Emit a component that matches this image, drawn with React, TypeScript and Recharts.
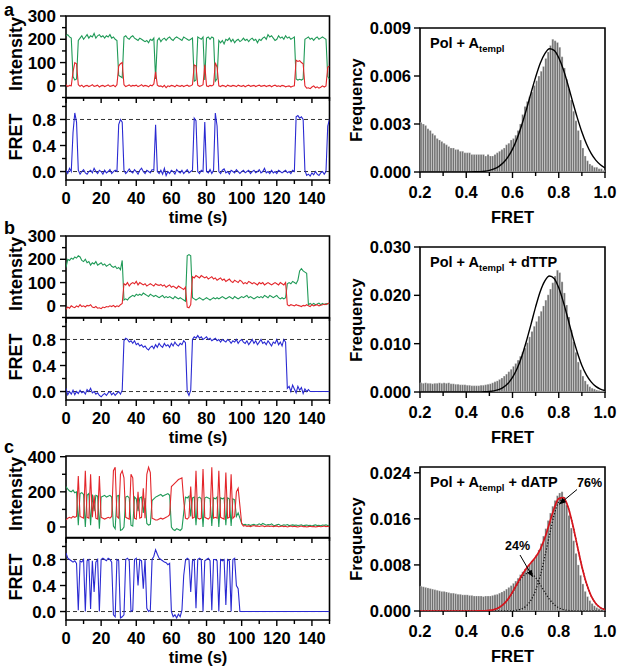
import React from "react";
import {
  LineChart,
  Line,
  XAxis,
  YAxis,
  ReferenceLine,
  ReferenceArea,
  ComposedChart,
  Bar,
} from "recharts";

const FONT = '"Liberation Sans", Arial, Helvetica, sans-serif';
const GREEN = "#1f9a57";
const RED = "#e3262b";
const BLUE = "#2a2ad2";

// ---------- traces (1 s steps, t = 0..150) ----------
const A_GREEN = [
  215, 220, 210, 205, 40, 25, 30, 195, 205, 215,
  200, 210, 220, 205, 215, 210, 225, 205, 215, 220,
  210, 215, 205, 215, 210, 220, 205, 210, 200, 195,
  45, 40, 35, 210, 215, 205, 200, 210, 215, 205,
  200, 195, 205, 200, 195, 190, 195, 185, 200, 195,
  205, 30, 195, 205, 190, 200, 205, 195, 205, 210,
  200, 195, 205, 210, 205, 200, 195, 210, 205, 200,
  195, 200, 205, 20, 25, 210, 205, 200, 210, 25,
  205, 210, 200, 210, 205, 20, 30, 195, 185, 195,
  180, 200, 195, 205, 190, 200, 185, 195, 200, 190,
  195, 205, 195, 200, 190, 200, 205, 195, 200, 185,
  200, 195, 205, 210, 200, 220, 210, 215, 205, 195,
  200, 215, 205, 210, 200, 215, 205, 210, 200, 205,
  210, 30, 25, 28, 25, 30, 200, 205, 210, 200,
  205, 195, 205, 210, 200, 205, 210, 205, 200, 40,
  30,
];
const A_RED = [
  5, -3, 2, 0, 60, 100, 95, 5, -2, 3,
  -5, 0, 2, -3, 0, 5, -2, 0, 3, -5,
  0, 2, -3, 0, 4, -2, 0, 3, -4, 5,
  85, 95, 100, 5, -3, 0, 4, -2, 2, 0,
  3, -3, 0, 5, -2, 2, 0, -4, 3, 0,
  8, 60, 3, -2, 0, -5, 2, -8, 0, -3,
  2, 0, -4, 3, 0, -2, 2, -3, 0, 3,
  -2, 0, 5, 90, 85, 3, -2, 0, 5, 90,
  0, -3, 2, 0, 5, 100, 80, 0, -3, 2,
  0, -4, 3, 0, -2, 2, 0, -3, 3, 0,
  -2, 2, -4, 0, 3, -2, 0, 2, -3, 0,
  3, -2, 0, 2, -3, 0, 2, -4, 0, 3,
  -2, 0, -3, 2, 0, -4, -2, 0, -5, -2,
  0, 110, 105, 108, 100, 95, 0, -10, -8, -12,
  -5, 0, -8, -4, -10, -6, 0, -5, 0, 80,
  85,
];
const A_FRET = [
  0.02, -0.03, 0.05, 0, 0.6, 0.9, 0.76, 0.02, -0.04, 0,
  0.03, -0.02, -0.04, 0, 0.02, -0.02, 0.05, 0, -0.03, 0.02,
  0, -0.04, 0.02, -0.02, 0, 0.03, -0.03, 0, 0.02, 0,
  0.72, 0.8, 0.76, 0.02, -0.03, 0, 0.04, 0, -0.02, 0.03,
  0, -0.04, 0.02, 0.05, 0, -0.03, 0.02, 0, -0.02, 0.03,
  0.02, 0.72, 0, -0.03, 0.02, -0.04, 0.05, -0.06, 0, -0.03,
  0.02, 0, -0.04, 0.03, 0, -0.02, 0.02, -0.03, 0, 0.03,
  -0.02, 0, 0.02, 0.82, 0.78, 0, -0.03, 0.02, 0, 0.76,
  0, -0.02, 0.03, -0.03, 0.02, 0.9, 0.7, 0, -0.03, 0.02,
  0.04, -0.02, 0, -0.04, 0.02, 0, -0.02, 0.03, 0, -0.03,
  0, 0.02, -0.02, 0, 0.02, -0.03, 0, 0.02, -0.02, 0,
  0.03, -0.02, 0, 0.05, -0.02, 0, -0.03, 0.02, -0.02, 0,
  -0.03, 0.02, 0, -0.02, 0, 0.02, -0.02, 0, -0.03, 0.02,
  0, 0.84, 0.86, 0.82, 0.84, 0.8, 0.02, -0.06, -0.04, -0.07,
  -0.02, -0.05, 0, -0.04, -0.06, -0.02, 0, -0.04, 0, 0.7,
  0.8,
];

const B_GREEN = [
  165, 200, 195, 205, 200, 210, 205, 215, 210, 195,
  190, 200, 185, 190, 175, 185, 180, 190, 175, 180,
  185, 175, 180, 170, 175, 180, 170, 165, 170, 160,
  165, 155, 195, 25, 30, 25, 35, 40, 45, 40,
  50, 45, 50, 45, 55, 50, 45, 40, 50, 45,
  40, 45, 40, 35, 40, 45, 35, 40, 35, 40,
  35, 30, 40, 35, 30, 35, 30, 25, 20, 215,
  220, 215, 35, 30, 25, 30, 35, 30, 25, 30,
  35, 30, 25, 30, 35, 30, 35, 30, 35, 40,
  35, 30, 35, 40, 35, 30, 40, 35, 30, 35,
  40, 35, 40, 45, 35, 40, 35, 30, 35, 40,
  35, 40, 35, 45, 40, 35, 45, 40, 35, 40,
  45, 35, 30, 35, 30, 35, 95, 100, 95, 105,
  100, 95, 110, 150, 160, 150, 145, 140, 5, 10,
  5, 10, 5, 8, 12, 5, 10, 5, 10, 8,
  10,
];
const B_RED = [
  -15, -5, -10, 0, -5, -8, 0, -5, 5, -3,
  0, -5, 2, 0, 5, -5, -8, -3, -10, -8,
  -12, -5, -8, -3, -5, 0, -3, 2, -5, 0,
  -3, 5, 10, 95, 90, 100, 85, 95, 100, 95,
  105, 90, 100, 95, 90, 95, 85, 90, 95, 90,
  85, 95, 90, 88, 92, 85, 90, 80, 85, 90,
  80, 85, 80, 75, 85, 80, 75, 70, 80, -5,
  -8, 5, 125, 120, 130, 125, 120, 130, 125, 120,
  125, 115, 120, 125, 115, 120, 110, 115, 120, 110,
  115, 105, 110, 115, 105, 100, 110, 105, 100, 110,
  105, 95, 100, 95, 105, 100, 95, 100, 95, 90,
  100, 95, 100, 90, 95, 100, 95, 90, 95, 100,
  95, 90, 100, 95, 90, 100, 5, 0, 5, 3,
  0, 5, 2, 0, -3, 2, 0, 5, 0, -3,
  5, 0, 3, 5, 0, 3, 5, 8, 5, 10,
  12,
];
const B_FRET = [
  0.05, -0.05, 0, -0.04, 0.02, -0.05, 0, -0.03, 0.02, -0.02,
  0, -0.04, 0.03, 0, 0.05, -0.02, 0, -0.04, -0.02, -0.06,
  -0.08, -0.05, -0.03, -0.06, -0.02, 0, -0.05, -0.02, -0.06, -0.03,
  0, -0.04, 0.02, 0.78, 0.82, 0.8, 0.76, 0.78, 0.74, 0.78,
  0.72, 0.74, 0.7, 0.72, 0.68, 0.7, 0.66, 0.64, 0.68, 0.7,
  0.66, 0.72, 0.68, 0.74, 0.7, 0.68, 0.74, 0.7, 0.72, 0.68,
  0.74, 0.7, 0.76, 0.72, 0.7, 0.74, 0.72, 0.78, 0.75, 0,
  -0.06, 0.02, 0.8, 0.84, 0.82, 0.86, 0.82, 0.84, 0.8, 0.82,
  0.84, 0.8, 0.82, 0.78, 0.8, 0.82, 0.78, 0.8, 0.76, 0.8,
  0.78, 0.76, 0.8, 0.78, 0.74, 0.78, 0.76, 0.8, 0.74, 0.78,
  0.8, 0.76, 0.74, 0.78, 0.72, 0.76, 0.8, 0.74, 0.78, 0.72,
  0.76, 0.8, 0.74, 0.76, 0.72, 0.78, 0.74, 0.7, 0.76, 0.74,
  0.8, 0.72, 0.76, 0.7, 0.8, 0.76, 0.05, 0.08, 0, 0.1,
  0.04, -0.02, 0.08, 0.02, 0.06, -0.03, 0.04, 0, 0.03, 0,
  0, 0, 0, 0, 0, 0, 0, 0, 0, 0,
  0,
];

const C_GREEN = [
  230, 215, 205, 200, 210, 195, 200, 10, 190, 195,
  185, 0, 180, 190, 10, 185, 90, 180, 175, -10,
  170, 175, 180, 170, 175, 180, 170, 5, -10, 175,
  180, -20, -15, 0, 170, 175, 165, 10, 5, 170,
  160, 90, 165, 170, 80, 165, 20, 10, 15, 150,
  160, 170, 175, 180, 185, 175, 180, 185, 190, 180,
  0, -15, -20, -10, -15, -20, -10, 80, 170, 165,
  175, 60, 165, 170, 10, 165, 170, 160, 0, 165,
  170, 165, 160, 5, 165, 160, 170, 0, 165, 160,
  165, 10, 165, 160, 5, 160, 155, 60, 80, 50,
  20, 12, 15, 10, 14, 8, 12, 15, 10, 13,
  18, 12, 20, 15, 10, 14, 12, 18, 10, 8,
  12, 15, 10, 8, 12, 10, 14, 8, 10, 12,
  9, 11, 8, 10, 12, 7, 9, 11, 8, 10,
  6, 9, 12, 8, 10, 7, 11, 9, 12, 8,
  10,
];
const C_RED = [
  40, 50, 55, 50, 60, 55, 60, 290, 60, 55,
  50, 320, 55, 50, 300, 55, 180, 50, 45, 290,
  55, 50, 45, 50, 55, 50, 60, 320, 340, 60,
  50, 300, 320, 280, 55, 50, 45, 300, 280, 50,
  45, 200, 50, 55, 220, 50, 300, 340, 310, 50,
  45, 40, 40, 45, 50, 45, 50, 55, 60, 70,
  230, 240, 250, 260, 270, 275, 280, 150, 50, 45,
  55, 230, 50, 55, 320, 50, 45, 50, 330, 55,
  50, 45, 55, 340, 50, 55, 50, 320, 55, 50,
  45, 310, 50, 55, 300, 50, 60, 200, 220, 120,
  20, 5, 8, 3, 6, 2, 5, 8, 4, 6,
  3, 5, 7, 2, 4, 6, 3, 5, 2, 4,
  6, 1, 3, 5, 2, 4, 0, 3, 5, 1,
  4, 2, 0, 3, 5, 1, 3, 0, 2, 4,
  1, 3, 0, 2, 4, 1, 3, 5, 2, 4,
  3,
];
const C_FRET = [
  0.9, 0.82, 0.8, 0.78, 0.76, 0.78, 0.74, 0.02, 0.78, 0.76,
  0.8, 0, 0.78, 0.8, 0.04, 0.78, 0.3, 0.76, 0.8, 0,
  0.8, 0.82, 0.8, 0.78, 0.82, 0.8, 0.76, -0.05, -0.08, 0.8,
  0.78, -0.1, -0.08, -0.05, 0.8, 0.82, 0.78, 0, 0.02, 0.8,
  0.82, 0.4, 0.8, 0.78, 0.35, 0.8, 0.05, 0, 0.02, 0.8,
  0.85, 0.95, 0.88, 0.82, 0.8, 0.78, 0.76, 0.75, 0.72, 0.74,
  0, -0.08, -0.05, -0.1, -0.04, -0.08, 0.02, 0.55, 0.78, 0.82,
  0.8, 0.3, 0.78, 0.8, 0.05, 0.8, 0.82, 0.8, 0, 0.78,
  0.8, 0.82, 0.78, 0.02, 0.8, 0.8, 0.78, 0, 0.8, 0.78,
  0.8, 0.1, 0.8, 0.78, 0, 0.8, 0.82, 0.4, 0.35, 0,
  0, 0, 0, 0, 0, 0, 0, 0, 0, 0,
  0, 0, 0, 0, 0, 0, 0, 0, 0, 0,
  0, 0, 0, 0, 0, 0, 0, 0, 0, 0,
  0, 0, 0, 0, 0, 0, 0, 0, 0, 0,
  0, 0, 0, 0, 0, 0, 0, 0, 0, 0,
  0,
];

// ---------- histograms (bins of 0.01 from 0.20 to 1.00) ----------
const BIN_START = 0.2;
const BIN_WIDTH = 0.01;
const HIST_A = [
  0.0031, 0.003, 0.0029, 0.0027, 0.0026, 0.0024, 0.0023, 0.0021, 0.002, 0.0019,
  0.0018, 0.0017, 0.0016, 0.0015, 0.0015, 0.0014, 0.0014, 0.0013, 0.0013, 0.0012,
  0.0012, 0.0012, 0.0011, 0.0011, 0.0011, 0.0011, 0.0011, 0.0011, 0.001, 0.0011,
  0.001, 0.001, 0.0011, 0.0012, 0.0013, 0.0014, 0.0015, 0.0017, 0.0018, 0.002,
  0.0021, 0.0023, 0.0026, 0.003, 0.0036, 0.0041, 0.0044, 0.0047, 0.005, 0.0054,
  0.0057, 0.006, 0.0063, 0.0066, 0.0071, 0.0075, 0.0079, 0.0083, 0.0082, 0.0081,
  0.0078, 0.0072, 0.0065, 0.0058, 0.0052, 0.0045, 0.0038, 0.0032, 0.0026, 0.002,
  0.0015, 0.001, 0.0007, 0.0005, 0.0004, 0.0003, 0.0003, 0.0002, 0.0002, 0.0001,
];
const HIST_B = [
  0.0019, 0.0018, 0.0019, 0.0018, 0.0018, 0.0017, 0.0018, 0.0018, 0.0019, 0.0018,
  0.0019, 0.0018, 0.0019, 0.0017, 0.0017, 0.0016, 0.0016, 0.0015, 0.0015, 0.0015,
  0.0014, 0.0014, 0.0013, 0.0013, 0.0013, 0.0013, 0.0014, 0.0014, 0.0015, 0.0016,
  0.0017, 0.0019, 0.0021, 0.0023, 0.0026, 0.0029, 0.0033, 0.0037, 0.0042, 0.0047,
  0.0053, 0.0059, 0.0066, 0.0074, 0.0082, 0.0091, 0.0102, 0.0114, 0.0125, 0.0136,
  0.0146, 0.0157, 0.0167, 0.0178, 0.019, 0.0201, 0.0213, 0.0226, 0.024, 0.0252,
  0.0247, 0.0228, 0.0205, 0.018, 0.0155, 0.0128, 0.0104, 0.0082, 0.0062, 0.0046,
  0.0033, 0.0023, 0.0016, 0.0011, 0.0008, 0.0006, 0.0004, 0.0003, 0.0002, 0.0001,
];
const HIST_C = [
  0.0043, 0.0042, 0.0041, 0.004, 0.0039, 0.0038, 0.0037, 0.0036, 0.0035, 0.0034,
  0.0034, 0.0033, 0.0032, 0.0031, 0.0031, 0.003, 0.0029, 0.0029, 0.0028, 0.0028,
  0.0028, 0.0027, 0.0027, 0.0026, 0.0026, 0.0026, 0.0026, 0.0025, 0.0026, 0.0026,
  0.0026, 0.0027, 0.0028, 0.0029, 0.0031, 0.0033, 0.0035, 0.0038, 0.0041, 0.0044,
  0.0048, 0.0052, 0.0057, 0.0063, 0.0068, 0.0073, 0.0077, 0.0081, 0.0085, 0.009,
  0.0097, 0.0106, 0.0117, 0.013, 0.0143, 0.0157, 0.017, 0.0182, 0.0192, 0.02,
  0.0205, 0.0207, 0.0198, 0.0184, 0.0166, 0.0144, 0.0122, 0.01, 0.008, 0.0062,
  0.0047, 0.0034, 0.0025, 0.0018, 0.0013, 0.0009, 0.0006, 0.0004, 0.0003, 0.0002,
];

// ---------- fitted curves ----------
const FIT_X = [
  0.2, 0.3, 0.4, 0.44, 0.46, 0.48, 0.5, 0.52, 0.54, 0.56,
  0.58, 0.6, 0.62, 0.64, 0.66, 0.68, 0.7, 0.72, 0.74, 0.76,
  0.78, 0.8, 0.82, 0.84, 0.86, 0.88, 0.9, 0.92, 0.94, 0.96,
  0.98, 1.0,
];
const FIT_A = [
  0, 0, 0.000002, 0.000011, 0.000025, 0.000051, 0.0001, 0.00019, 0.00034, 0.000575,
  0.00093, 0.00143, 0.0021, 0.00294, 0.0039, 0.00493, 0.00593, 0.0068, 0.0074, 0.0077,
  0.0076, 0.00714, 0.0064, 0.00544, 0.0044, 0.0034, 0.0025, 0.00175, 0.00116, 0.00074,
  0.00045, 0.00025,
];
const FIT_B = [
  0, 0, 0.000001, 0.000007, 0.00002, 0.000046, 0.000108, 0.00024, 0.00049, 0.00096,
  0.00175, 0.00301, 0.00485, 0.00736, 0.0105, 0.014, 0.0176, 0.0208, 0.023, 0.024,
  0.0235, 0.02156, 0.0186, 0.0151, 0.0115, 0.00823, 0.0055, 0.0035, 0.0021, 0.00116,
  0.0006, 0.0003,
];
const FIT_C_LOW = [
  0, 0, 0, 0.000003, 0.00001, 0.00003, 0.0001, 0.00025, 0.00056, 0.00112,
  0.00202, 0.00323, 0.00458, 0.00579, 0.0065, 0.0065, 0.00579, 0.00458, 0.00323, 0.00202,
  0.00112, 0.00056, 0.00025, 0.0001, 0.00003, 0.00001, 0, 0, 0, 0,
  0, 0,
];
const FIT_C_HIGH = [
  0, 0, 0, 0, 0, 0, 0, 0, 0, 0,
  0.00002, 0.00005, 0.00015, 0.00038, 0.0009, 0.00188, 0.00357, 0.00613, 0.00948, 0.01323,
  0.01667, 0.01895, 0.01944, 0.018, 0.01504, 0.01134, 0.00773, 0.00476, 0.00264, 0.00131,
  0.00059, 0.00024,
];
const FIT_C_SUM = [
  0, 0, 0, 0.000003, 0.00001, 0.00003, 0.0001, 0.00025, 0.00056, 0.00113,
  0.00204, 0.00328, 0.00473, 0.00617, 0.0074, 0.00838, 0.00936, 0.01071, 0.01271, 0.01525,
  0.01779, 0.01951, 0.01969, 0.0181, 0.01507, 0.01135, 0.00773, 0.00476, 0.00264, 0.00131,
  0.00059, 0.00024,
];

// ---------- tick lists ----------
const TIME_TICKS = [0, 10, 20, 30, 40, 50, 60, 70, 80, 90, 100, 110, 120, 130, 140, 150];
const FRET_TICKS = [0, 0.2, 0.4, 0.6, 0.8, 1.0];
const FRET_MAJOR = [0, 0.4, 0.8];
const INT_TICKS_AB = [-50, 0, 50, 100, 150, 200, 250, 300];
const INT_MAJOR_AB = [0, 100, 200, 300];
const INT_TICKS_C = [0, 100, 200, 300, 400];
const INT_MAJOR_C = [0, 200, 400];
const HX_TICKS = [0.2, 0.3, 0.4, 0.5, 0.6, 0.7, 0.8, 0.9, 1.0];
const HY_TICKS_A = [0, 0.003, 0.006, 0.009];
const HY_TICKS_B = [0, 0.01, 0.02, 0.03];
const HY_TICKS_C = [0, 0.008, 0.016, 0.024];

const traceRows = (g: number[], r: number[], f: number[]) =>
  g.map((gv, i) => ({ t: i, g: gv, r: r[i], f: f[i] }));
const binRows = (vals: number[]) =>
  vals.map((v, i) => ({ bin: (BIN_START + BIN_WIDTH * (i + 0.5)).toFixed(3), v }));
const fitRows = (ys: number[]) => FIT_X.map((x, i) => ({ x, y: ys[i] }));

const isIn = (list: number[], v: number) => list.some((m) => Math.abs(m - v) < 1e-9);

const txt = { fontFamily: FONT, fontWeight: 700 as const, fill: "#000" };

function TracePair(props: {
  top: number;
  g: number[];
  r: number[];
  f: number[];
  intDomain: [number, number];
  intTicks: number[];
  intMajor: number[];
}) {
  const { top, g, r, f, intDomain, intTicks, intMajor } = props;
  const rows = traceRows(g, r, f);
  const L = 66;
  const yTickInt = (p: any) => {
    const v = p.payload.value;
    const major = isIn(intMajor, v);
    return (
      <g>
        <line x1={L} x2={L - (major ? 6 : 4)} y1={p.y} y2={p.y} stroke="#000" strokeWidth={1.4} />
        {major && (
          <text x={L - 10} y={p.y} dy="0.36em" textAnchor="end" fontSize={17} {...txt}>
            {v}
          </text>
        )}
      </g>
    );
  };
  const yTickFret = (p: any) => {
    const v = p.payload.value;
    const major = isIn(FRET_MAJOR, v);
    return (
      <g>
        <line x1={L} x2={L - (major ? 6 : 4)} y1={p.y} y2={p.y} stroke="#000" strokeWidth={1.4} />
        {major && (
          <text x={L - 10} y={p.y} dy="0.36em" textAnchor="end" fontSize={17} {...txt}>
            {v.toFixed(1)}
          </text>
        )}
      </g>
    );
  };
  const PT = 8;
  const PB = 90;
  const xTick = (p: any) => {
    const v = p.payload.value;
    const major = v % 20 === 0;
    return (
      <g>
        <line x1={p.x} x2={p.x} y1={PB} y2={PB + (major ? 6 : 4)} stroke="#000" strokeWidth={1.4} />
        <line x1={p.x} x2={p.x} y1={PT} y2={PT + (major ? 5 : 3)} stroke="#000" strokeWidth={1.4} />
        {major && (
          <text x={p.x} y={PB + 24} textAnchor="middle" fontSize={16.5} {...txt}>
            {v}
          </text>
        )}
      </g>
    );
  };
  return (
    <>
      <div style={{ position: "absolute", left: 0, top, width: 340, height: 100 }}>
        <LineChart width={340} height={100} data={rows} margin={{ top: 16, right: 10.5, bottom: 2.5, left: 0 }}>
          <XAxis type="number" dataKey="t" domain={[0, 150]} hide allowDataOverflow />
          <YAxis
            type="number"
            domain={intDomain}
            ticks={intTicks}
            interval={0}
            width={L}
            tickLine={false}
            axisLine={false}
            tick={yTickInt}
            allowDataOverflow
          />
          <ReferenceArea
            x1={0}
            x2={150}
            y1={intDomain[0]}
            y2={intDomain[1]}
            fill="none"
            fillOpacity={0}
            stroke="#000"
            strokeWidth={1.6}
            ifOverflow="visible"
          />
          <Line type="linear" dataKey="g" stroke={GREEN} strokeWidth={1.1} dot={false} isAnimationActive={false} />
          <Line type="linear" dataKey="r" stroke={RED} strokeWidth={1.1} dot={false} isAnimationActive={false} />
        </LineChart>
      </div>
      <div style={{ position: "absolute", left: 0, top: top + 90, width: 340, height: 140 }}>
        <LineChart width={340} height={140} data={rows} margin={{ top: PT, right: 10.5, bottom: 20, left: 0 }}>
          <XAxis
            type="number"
            dataKey="t"
            domain={[0, 150]}
            ticks={TIME_TICKS}
            interval={0}
            height={30}
            tickLine={false}
            axisLine={false}
            tick={xTick}
            allowDataOverflow
          />
          <YAxis
            type="number"
            domain={[-0.13, 1.13]}
            ticks={FRET_TICKS}
            interval={0}
            width={L}
            tickLine={false}
            axisLine={false}
            tick={yTickFret}
            allowDataOverflow
          />
          <ReferenceArea
            x1={0}
            x2={150}
            y1={-0.13}
            y2={1.13}
            fill="none"
            fillOpacity={0}
            stroke="#000"
            strokeWidth={1.6}
            ifOverflow="visible"
          />
          <ReferenceLine y={0.8} stroke="#333" strokeDasharray="4 3" strokeWidth={1} />
          <ReferenceLine y={0} stroke="#333" strokeDasharray="4 3" strokeWidth={1} />
          <Line type="linear" dataKey="f" stroke={BLUE} strokeWidth={1.1} dot={false} isAnimationActive={false} />
        </LineChart>
      </div>
    </>
  );
}

type Fit = { ys: number[]; stroke: string; width: number; dash?: string };

function Histogram(props: {
  top: number;
  plotTop: number;
  plotBottom: number;
  bins: number[];
  yMax: number;
  yTicks: number[];
  fits: Fit[];
}) {
  const { top, plotTop, plotBottom, bins, yMax, yTicks, fits } = props;
  const W = 284;
  const H = 230;
  const L = 80;
  const data = binRows(bins);
  const yTick = (p: any) => {
    const v = p.payload.value;
    return (
      <g>
        <line x1={L} x2={L - 6} y1={p.y} y2={p.y} stroke="#000" strokeWidth={1.4} />
        <text x={L - 9} y={p.y} dy="0.36em" textAnchor="end" fontSize={16.5} {...txt}>
          {v.toFixed(3)}
        </text>
      </g>
    );
  };
  const xTick = (p: any) => {
    const v = p.payload.value;
    const major = Math.round(v * 10) % 2 === 0;
    return (
      <g>
        <line x1={p.x} x2={p.x} y1={plotBottom} y2={plotBottom + (major ? 6 : 4)} stroke="#000" strokeWidth={1.4} />
        {major && (
          <text x={p.x} y={plotBottom + 26} textAnchor="middle" fontSize={16.5} {...txt}>
            {v.toFixed(1)}
          </text>
        )}
      </g>
    );
  };
  return (
    <div style={{ position: "absolute", left: 340, top, width: W, height: H }}>
      <ComposedChart
        width={W}
        height={H}
        data={data}
        barCategoryGap={0}
        barGap={0}
        margin={{ top: plotTop, right: 19, bottom: H - plotBottom - 30, left: 0 }}
      >
        <XAxis xAxisId="cat" type="category" dataKey="bin" hide />
        <XAxis
          xAxisId="num"
          type="number"
          dataKey="x"
          domain={[0.2, 1.0]}
          ticks={HX_TICKS}
          interval={0}
          height={30}
          tickLine={false}
          axisLine={false}
          tick={xTick}
          allowDataOverflow
        />
        <YAxis
          type="number"
          domain={[0, yMax]}
          ticks={yTicks}
          interval={0}
          width={L}
          tickLine={false}
          axisLine={false}
          tick={yTick}
          allowDataOverflow
        />
        <Bar
          xAxisId="cat"
          dataKey="v"
          fill="#6e6e6e"
          stroke="#f2f2f2"
          strokeWidth={0.3}
          isAnimationActive={false}
        />
        {fits.map((ft, i) => (
          <Line
            key={i}
            xAxisId="num"
            data={fitRows(ft.ys)}
            dataKey="y"
            type="monotone"
            stroke={ft.stroke}
            strokeWidth={ft.width}
            strokeDasharray={ft.dash}
            dot={false}
            isAnimationActive={false}
          />
        ))}
        <ReferenceArea
          xAxisId="num"
          x1={0.2}
          x2={1.0}
          y1={0}
          y2={yMax}
          fill="none"
          fillOpacity={0}
          stroke="#000"
          strokeWidth={1.6}
          ifOverflow="visible"
        />
      </ComposedChart>
    </div>
  );
}

function Legend(props: { x: number; y: number; tail?: string }) {
  return (
    <text x={props.x} y={props.y} fontSize={14.5} {...txt}>
      Pol + A
      <tspan fontSize={9.5} dy={4}>
        templ
      </tspan>
      {props.tail && <tspan fontSize={14.5} dy={-4}>{props.tail}</tspan>}
    </text>
  );
}

export default function App() {
  const rowsY = [0, 220, 440];
  const histBottoms = [172, 392, 611];
  return (
    <div style={{ position: "absolute", left: 0, top: 0, width: 624, height: 671, background: "#fff" }}>
      <TracePair top={0} g={A_GREEN} r={A_RED} f={A_FRET} intDomain={[-50, 300]} intTicks={INT_TICKS_AB} intMajor={INT_MAJOR_AB} />
      <TracePair top={220} g={B_GREEN} r={B_RED} f={B_FRET} intDomain={[-50, 300]} intTicks={INT_TICKS_AB} intMajor={INT_MAJOR_AB} />
      <TracePair top={440} g={C_GREEN} r={C_RED} f={C_FRET} intDomain={[-60, 404]} intTicks={INT_TICKS_C} intMajor={INT_MAJOR_C} />

      <Histogram top={0} plotTop={28} plotBottom={172} bins={HIST_A} yMax={0.009} yTicks={HY_TICKS_A}
        fits={[{ ys: FIT_A, stroke: "#000", width: 1.4 }]} />
      <Histogram top={220} plotTop={27} plotBottom={172} bins={HIST_B} yMax={0.03} yTicks={HY_TICKS_B}
        fits={[{ ys: FIT_B, stroke: "#000", width: 1.4 }]} />
      <Histogram top={440} plotTop={27} plotBottom={171} bins={HIST_C} yMax={0.025} yTicks={HY_TICKS_C}
        fits={[
          { ys: FIT_C_LOW, stroke: "#111", width: 1.3, dash: "1.2 1.8" },
          { ys: FIT_C_HIGH, stroke: "#111", width: 1.3, dash: "1.2 1.8" },
          { ys: FIT_C_SUM, stroke: "#d8141c", width: 1.7 },
        ]} />

      <svg width={624} height={671} style={{ position: "absolute", left: 0, top: 0, pointerEvents: "none" }}>
        <defs>
          <marker id="ah" viewBox="0 0 10 10" refX="9" refY="5" markerWidth="7" markerHeight="7" orient="auto-start-reverse">
            <path d="M0,1 L10,5 L0,9 z" fill="#000" />
          </marker>
        </defs>
        <text x={4} y={16} fontSize={18} {...txt}>a</text>
        <text x={4} y={234} fontSize={18} {...txt}>b</text>
        <text x={4} y={453} fontSize={18} {...txt}>c</text>
        {rowsY.map((oy) => (
          <g key={oy}>
            <text transform={`translate(22, ${oy + 54}) rotate(-90)`} textAnchor="middle" fontSize={18} {...txt}>
              Intensity
            </text>
            <text transform={`translate(22, ${oy + 137}) rotate(-90)`} textAnchor="middle" fontSize={18} {...txt}>
              FRET
            </text>
            <text x={198} y={oy + 223} textAnchor="middle" fontSize={16.5} {...txt}>
              time (s)
            </text>
          </g>
        ))}
        {histBottoms.map((b) => (
          <g key={b}>
            <text transform={`translate(362, ${b - 72}) rotate(-90)`} textAnchor="middle" fontSize={16.5} {...txt}>
              Frequency
            </text>
            <text x={512.5} y={b + 51} textAnchor="middle" fontSize={16.5} {...txt}>
              FRET
            </text>
          </g>
        ))}
        <Legend x={430} y={48} />
        <Legend x={430} y={267} tail=" + dTTP" />
        <Legend x={430} y={487} tail=" + dATP" />
        <text x={517.5} y={550} textAnchor="middle" fontSize={12.5} {...txt}>24%</text>
        <line x1={520} y1={555} x2={532.5} y2={576.5} stroke="#000" strokeWidth={1} markerEnd="url(#ah)" />
        <text x={589.5} y={487} textAnchor="middle" fontSize={12.5} {...txt}>76%</text>
        <line x1={577} y1={489.5} x2={559.5} y2={504} stroke="#000" strokeWidth={1} markerEnd="url(#ah)" />
      </svg>
    </div>
  );
}
